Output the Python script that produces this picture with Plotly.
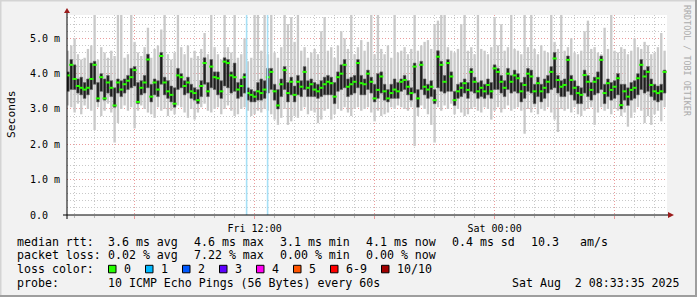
import plotly.graph_objects as go
import pandas as pd

# ---------------- data (ms) : one sample every 10 minutes ----------------
start_time = "2025-08-01 02:40:00"

median = [
    3.95,4.25,3.85,3.65,3.60,3.55,3.60,3.85,4.25,3.30,3.90,3.30,3.75,3.60,3.10,3.75,3.55,3.70,3.80,3.90,4.10,3.20,3.60,3.75,4.40,3.35,3.75,3.55,4.50,3.75,3.50,3.40,3.15,3.95,3.90,3.65,3.75,3.50,3.45,3.25,3.65,4.30,3.50,4.20,3.90,
    3.87,3.50,4.34,4.30,3.95,3.90,3.55,3.65,3.90,3.45,3.40,3.35,3.50,3.45,3.55,3.90,4.05,3.50,3.10,3.70,4.10,3.45,3.77,3.40,3.77,3.63,4.05,3.60,3.70,3.55,3.50,3.60,3.70,3.77,3.73,3.35,3.90,4.00,4.25,3.63,3.70,3.77,4.30,3.73,3.70,
    4.00,3.77,3.30,3.54,3.92,3.50,3.30,3.45,3.55,3.50,3.77,3.82,3.63,3.45,4.20,3.30,4.25,3.63,3.55,3.63,3.25,4.48,4.25,3.77,4.30,3.92,3.25,3.50,3.60,3.73,3.54,4.05,3.77,3.50,3.60,3.50,3.68,3.50,4.15,4.05,3.77,3.60,4.00,3.77,3.95,
    3.87,3.50,3.68,4.00,3.92,3.50,3.73,3.50,3.60,3.77,4.05,4.43,3.82,3.63,3.68,4.39,3.82,3.60,3.45,3.40,3.96,3.77,3.54,3.77,3.87,4.39,3.45,3.73,3.54,3.63,3.87,3.11,3.50,3.35,3.54,3.60,3.87,4.25,3.92,4.05,3.68,3.50,3.45,3.50,4.05]

dark_hi = [
    4.05,4.40,4.25,3.85,3.90,3.75,3.85,4.30,4.35,3.75,4.00,3.85,3.95,3.80,3.60,3.85,3.80,3.85,3.95,4.15,4.20,3.75,3.80,3.95,4.55,3.70,3.85,3.80,4.60,3.90,3.80,3.65,3.60,4.15,4.00,3.80,3.90,3.70,3.60,3.55,3.80,4.45,3.75,4.40,4.05,
    4.05,3.80,4.45,4.40,4.05,4.30,3.75,3.85,4.00,3.60,3.55,3.50,3.75,3.85,3.80,4.15,4.15,3.70,3.55,3.85,4.20,3.75,3.90,3.65,3.95,3.80,4.20,3.80,3.85,3.75,3.70,3.80,3.90,3.95,3.90,3.75,4.05,4.25,4.40,3.85,3.90,3.95,4.40,3.95,3.85,
    4.10,3.90,3.70,4.00,4.05,3.70,3.55,3.70,3.85,3.75,3.85,3.95,3.80,3.60,4.30,3.55,4.35,3.85,3.70,3.80,3.55,4.65,4.35,3.95,4.40,4.05,3.50,3.70,3.75,3.85,3.75,4.15,3.90,3.75,3.80,3.70,3.85,3.75,4.25,4.15,3.95,3.80,4.15,3.95,4.10,
    4.00,3.75,3.90,4.15,4.10,3.70,3.90,3.70,3.85,3.95,4.20,4.60,3.95,3.80,3.85,4.50,3.95,3.80,3.65,3.60,4.10,3.95,3.75,3.90,4.05,4.50,3.70,3.85,3.75,3.80,4.00,3.70,3.70,3.60,3.75,3.80,4.00,4.40,4.10,4.20,3.85,3.70,3.65,3.70,4.10]

dark_lo = [
    3.50,3.55,3.55,3.45,3.40,3.30,3.40,3.55,3.70,3.20,3.50,3.25,3.45,3.35,3.05,3.45,3.35,3.45,3.55,3.60,3.65,3.15,3.40,3.45,3.60,3.20,3.40,3.35,3.70,3.40,3.30,3.20,3.05,3.55,3.60,3.40,3.45,3.30,3.25,3.15,3.35,3.70,3.35,3.60,3.55,
    3.40,3.30,3.65,3.60,3.45,3.50,3.30,3.35,3.45,3.25,3.20,3.20,3.25,3.25,3.30,3.45,3.55,3.25,3.00,3.35,3.55,3.20,3.40,3.20,3.40,3.35,3.55,3.35,3.35,3.35,3.30,3.35,3.40,3.40,3.40,3.15,3.50,3.55,3.60,3.35,3.40,3.45,3.60,3.40,3.40,
    3.55,3.45,3.20,3.30,3.45,3.25,3.20,3.30,3.30,3.30,3.50,3.55,3.40,3.25,3.45,3.05,3.55,3.40,3.30,3.35,3.15,3.60,3.50,3.45,3.50,3.50,3.10,3.30,3.35,3.45,3.30,3.50,3.45,3.30,3.35,3.30,3.40,3.30,3.55,3.55,3.45,3.35,3.55,3.45,3.50,
    3.45,3.20,3.30,3.50,3.45,3.15,3.35,3.20,3.30,3.45,3.55,3.60,3.45,3.35,3.35,3.50,3.40,3.25,3.15,3.15,3.45,3.35,3.25,3.40,3.45,3.55,3.15,3.35,3.25,3.30,3.40,3.00,3.25,3.10,3.25,3.30,3.40,3.55,3.45,3.50,3.35,3.25,3.20,3.25,3.45]

rtt_max = [
    4.65,4.80,5.00,4.55,4.40,4.45,4.70,4.80,5.70,4.40,4.75,4.60,4.45,4.65,4.50,5.70,5.70,4.45,4.55,5.70,4.90,4.60,4.50,4.75,5.30,4.45,4.70,4.80,5.25,5.70,4.55,4.40,4.60,5.70,4.75,4.55,4.80,4.45,4.65,4.50,4.70,5.15,4.55,5.70,4.75,
    4.55,4.40,5.70,4.75,4.60,5.70,4.45,4.55,5.00,4.35,4.45,5.70,5.70,4.65,5.70,4.55,5.70,4.60,4.45,4.75,5.70,5.40,5.60,4.90,5.70,4.65,4.75,4.45,4.60,4.70,4.55,5.20,5.60,4.65,4.75,4.45,4.80,5.20,5.00,4.70,5.70,4.55,4.75,4.95,4.65,
    4.90,5.70,4.55,5.70,4.70,4.55,4.80,4.45,5.70,4.60,4.65,4.75,4.55,4.70,5.70,4.65,4.80,4.90,4.95,4.70,5.40,5.50,5.70,5.70,4.75,4.65,4.60,4.70,5.40,5.70,4.65,4.75,4.55,5.70,4.70,4.65,4.55,4.75,5.60,4.80,5.40,4.65,4.75,5.70,4.70,
    4.65,4.55,5.70,4.75,5.70,4.70,4.55,4.80,4.65,4.60,5.70,4.90,4.70,5.70,4.65,4.75,5.00,4.60,4.55,4.65,5.20,5.50,4.70,4.75,4.60,4.55,5.30,4.70,5.70,4.65,4.60,4.75,4.70,4.55,4.65,5.00,4.75,4.70,4.90,4.80,4.55,4.60,4.75,5.15,4.65]

rtt_min = [
    3.10,3.05,2.90,3.15,2.85,3.10,3.00,2.95,2.40,3.05,2.80,2.95,3.15,2.90,2.05,2.60,3.00,3.10,2.95,3.05,2.45,2.95,3.10,3.00,2.90,2.85,2.75,3.05,2.95,3.00,2.80,2.95,2.85,3.10,3.05,2.90,2.75,3.00,2.70,2.90,3.05,3.15,2.95,2.90,3.00,
    3.05,2.85,3.00,3.10,2.95,2.80,2.85,3.00,3.05,2.95,2.80,2.85,2.95,2.90,3.00,2.95,2.85,2.70,2.55,2.75,3.00,2.55,2.65,2.80,2.75,2.95,3.05,2.85,2.95,2.90,2.60,2.70,2.95,3.00,2.70,2.85,3.00,2.95,3.05,2.90,2.80,3.00,3.05,2.95,3.00,
    3.05,2.90,2.65,2.95,2.80,2.85,2.90,3.05,3.00,3.10,3.05,3.00,2.95,3.05,1.95,2.80,3.10,3.00,2.85,2.55,2.05,3.05,2.95,3.10,3.00,3.15,2.85,3.00,2.90,2.80,2.85,3.00,3.05,2.95,2.90,3.05,3.00,2.70,2.95,3.05,2.90,3.00,3.10,2.95,3.00,
    3.05,2.95,2.30,3.00,2.90,3.05,2.85,3.00,2.95,3.05,2.90,2.70,2.35,3.00,2.95,3.00,2.90,3.05,2.85,2.80,2.95,3.00,3.05,2.55,2.90,3.05,2.95,3.00,2.85,3.00,2.95,2.80,2.90,2.50,2.75,2.90,3.05,2.95,2.60,2.80,2.55,2.85,2.95,2.65,3.05]

loss_times = ["2025-08-01 11:36", "2025-08-01 12:39"]

x_range = ["2025-08-01 02:37:12", "2025-08-02 08:37:12"]
major_ticks = ["2025-08-01 06:00", "2025-08-01 12:00", "2025-08-01 18:00",
               "2025-08-02 00:00", "2025-08-02 06:00"]
major_text = ["", "Fri 12:00", "", "Sat 00:00", ""]
y_ticks = [0, 1, 2, 3, 4, 5]
y_text = ["0.0\u00a0\u00a0", "1.0 m", "2.0 m", "3.0 m", "4.0 m", "5.0 m"]

loss_labels = ["0", "1", "2", "3", "4", "5", "6-9", "10/10"]
loss_colors = ["#26ff00", "#00b8ff", "#0059ff", "#5e00ff", "#ff00f2", "#ff5500", "#ff0000", "#a10000"]

rtt_items = ["3.6 ms avg", "4.6 ms max", "3.1 ms min", "4.1 ms now", "0.4 ms sd"]
rtt_extra = ["10.3", "am/s"]
loss_items = ["0.02 % avg", "7.22 % max", "0.00 % min", "0.00 % now"]
row_heads = ["median rtt:", "packet loss:", "loss color:", "probe:"]
probe_text = "10 ICMP Echo Pings (56 Bytes) every 60s"
stamp = "Sat Aug  2 08:33:35 2025"
watermark = "RRDTOOL / TOBI OETIKER"

# ---------------- layout helpers ----------------
W, H = 697, 297
PL, PR, PT, PB = 67, 667, 15, 215
def px(x): return (x - PL) / (PR - PL)
def py(y): return (PB - y) / (PB - PT)

n = min(len(median), len(dark_hi), len(dark_lo), len(rtt_max), len(rtt_min))
times = pd.date_range(start_time, periods=n, freq="10min")
step_ms = 600000
MONO = "DejaVu Sans Mono"
DOT = "1px,2px"

fig = go.Figure()
fig.add_bar(x=times, base=rtt_min[:n], y=[rtt_max[i] - rtt_min[i] for i in range(n)],
            width=step_ms * 0.7, marker=dict(color="#c9c9c9", line=dict(width=0)), opacity=1,
            hoverinfo="skip")
fig.add_bar(x=times, base=dark_lo[:n], y=[dark_hi[i] - dark_lo[i] for i in range(n)],
            width=step_ms * 0.8, marker=dict(color="#1e1e1e", line=dict(width=0.6, color="#6a6a6a")),
            opacity=1, hoverinfo="skip")
fig.add_scatter(x=times, y=median[:n], mode="markers",
                marker=dict(symbol="line-ew", size=3, color="#26ff00",
                            line=dict(width=2, color="#26ff00")),
                hoverinfo="skip")

# minor grid positions (hours / 0.2 ms) that do not sit on major lines
hours = pd.date_range("2025-08-01 03:00", "2025-08-02 08:00", freq="1h")
minor_x = [h for h in hours if h.hour % 6 != 0]
minor_y = [round(k * 0.2, 1) for k in range(1, 29) if k % 5 != 0]

shapes = []
for t in loss_times:
    shapes.append(dict(type="line", xref="x", yref="paper", x0=t, x1=t, y0=0, y1=1,
                       line=dict(color="#a6e0f6", width=1.6), layer="above"))
# axis lines & arrows
shapes.append(dict(type="line", xref="paper", yref="paper", x0=px(67), x1=px(67),
                   y0=py(219), y1=py(12), line=dict(color="#000", width=1), layer="above"))
shapes.append(dict(type="line", xref="paper", yref="paper", x0=px(63), x1=px(670),
                   y0=py(215), y1=py(215), line=dict(color="#000", width=1), layer="above"))
shapes.append(dict(type="path", xref="paper", yref="paper",
                   path=f"M {px(64)} {py(13)} L {px(70)} {py(13)} L {px(67)} {py(8)} Z",
                   fillcolor="#9b1c1c", line=dict(width=0), layer="above"))
shapes.append(dict(type="path", xref="paper", yref="paper",
                   path=f"M {px(668)} {py(212)} L {px(668)} {py(218)} L {px(674)} {py(215)} Z",
                   fillcolor="#9b1c1c", line=dict(width=0), layer="above"))
# frame
shapes.append(dict(type="rect", xref="paper", yref="paper", x0=px(0), x1=px(697), y0=py(0), y1=py(1.5),
                   fillcolor="#d4d4d4", line=dict(width=0)))
shapes.append(dict(type="rect", xref="paper", yref="paper", x0=px(0), x1=px(1.5), y0=py(0), y1=py(297),
                   fillcolor="#d4d4d4", line=dict(width=0)))
shapes.append(dict(type="rect", xref="paper", yref="paper", x0=px(0), x1=px(697), y0=py(295), y1=py(297),
                   fillcolor="#9e9e9e", line=dict(width=0)))
shapes.append(dict(type="rect", xref="paper", yref="paper", x0=px(695), x1=px(697), y0=py(0), y1=py(297),
                   fillcolor="#9e9e9e", line=dict(width=0)))

annotations = []
def txt(s, x, y, size=11.6, xanchor="left", color="#000", angle=0):
    annotations.append(dict(text=s.replace(" ", "\u00a0"), x=px(x), y=py(y), xref="paper", yref="paper",
                            xanchor=xanchor, yanchor="middle", showarrow=False, textangle=angle,
                            font=dict(family=MONO, size=size, color=color), borderpad=0))

line_y = [241.5, 255.2, 269.0, 283.0]
for s, y in zip(row_heads, line_y):
    txt(s, 16, y)
for k, s in enumerate(rtt_items):
    txt(s, 107.3 + 86 * k, line_y[0])
txt(rtt_extra[0], 530, line_y[0])
txt(rtt_extra[1], 579, line_y[0])
for k, s in enumerate(loss_items):
    txt(s, 107.3 + 86 * k, line_y[1])
txt(probe_text, 107.3, line_y[3])
txt(stamp, 681, line_y[3], xanchor="right")

sq_x = 108.5
for lab, col in zip(loss_labels, loss_colors):
    shapes.append(dict(type="rect", xref="paper", yref="paper", x0=px(sq_x), x1=px(sq_x + 7.5),
                       y0=py(265.3), y1=py(272.8), fillcolor=col, line=dict(color="#000", width=1)))
    txt(lab, sq_x + 14.2, line_y[2])
    sq_x += 14.6 + 7 * len(lab) + 15.4

txt("Seconds", 11, 114, size=11.3, xanchor="center", angle=-90)
txt(watermark, 687, 61, size=8.4, xanchor="center", color="#ababab", angle=90)

fig.update_layout(
    width=W, height=H, autosize=False,
    margin=dict(l=PL, r=W - PR, t=PT, b=H - PB, pad=0),
    paper_bgcolor="#f2f2f2", plot_bgcolor="#ffffff",
    barmode="overlay", showlegend=False,
    shapes=shapes, annotations=annotations,
    xaxis=dict(type="date", range=x_range, tickmode="array", tickvals=major_ticks, ticktext=major_text,
               showgrid=True, gridcolor="#eb9c9c", griddash=DOT, gridwidth=1,
               ticks="outside", ticklen=3, tickcolor="#e89a9a", ticklabelstandoff=1,
               tickfont=dict(family=MONO, size=10, color="#000"),
               minor=dict(tickmode="array", tickvals=minor_x, showgrid=True, gridcolor="#c8c8c8",
                          griddash=DOT, ticks="outside", ticklen=2, tickcolor="#b8b8b8"),
               showline=False, zeroline=False, fixedrange=True),
    yaxis=dict(range=[0, 5.66], tickmode="array", tickvals=y_ticks, ticktext=y_text,
               showgrid=True, gridcolor="#eb9c9c", griddash=DOT, gridwidth=1,
               ticks="", ticklabelstandoff=6,
               tickfont=dict(family=MONO, size=10, color="#000"),
               minor=dict(tickmode="array", tickvals=minor_y, showgrid=True, gridcolor="#c8c8c8",
                          griddash=DOT),
               showline=False, zeroline=False, fixedrange=True),
)

fig.write_html("out.html")
